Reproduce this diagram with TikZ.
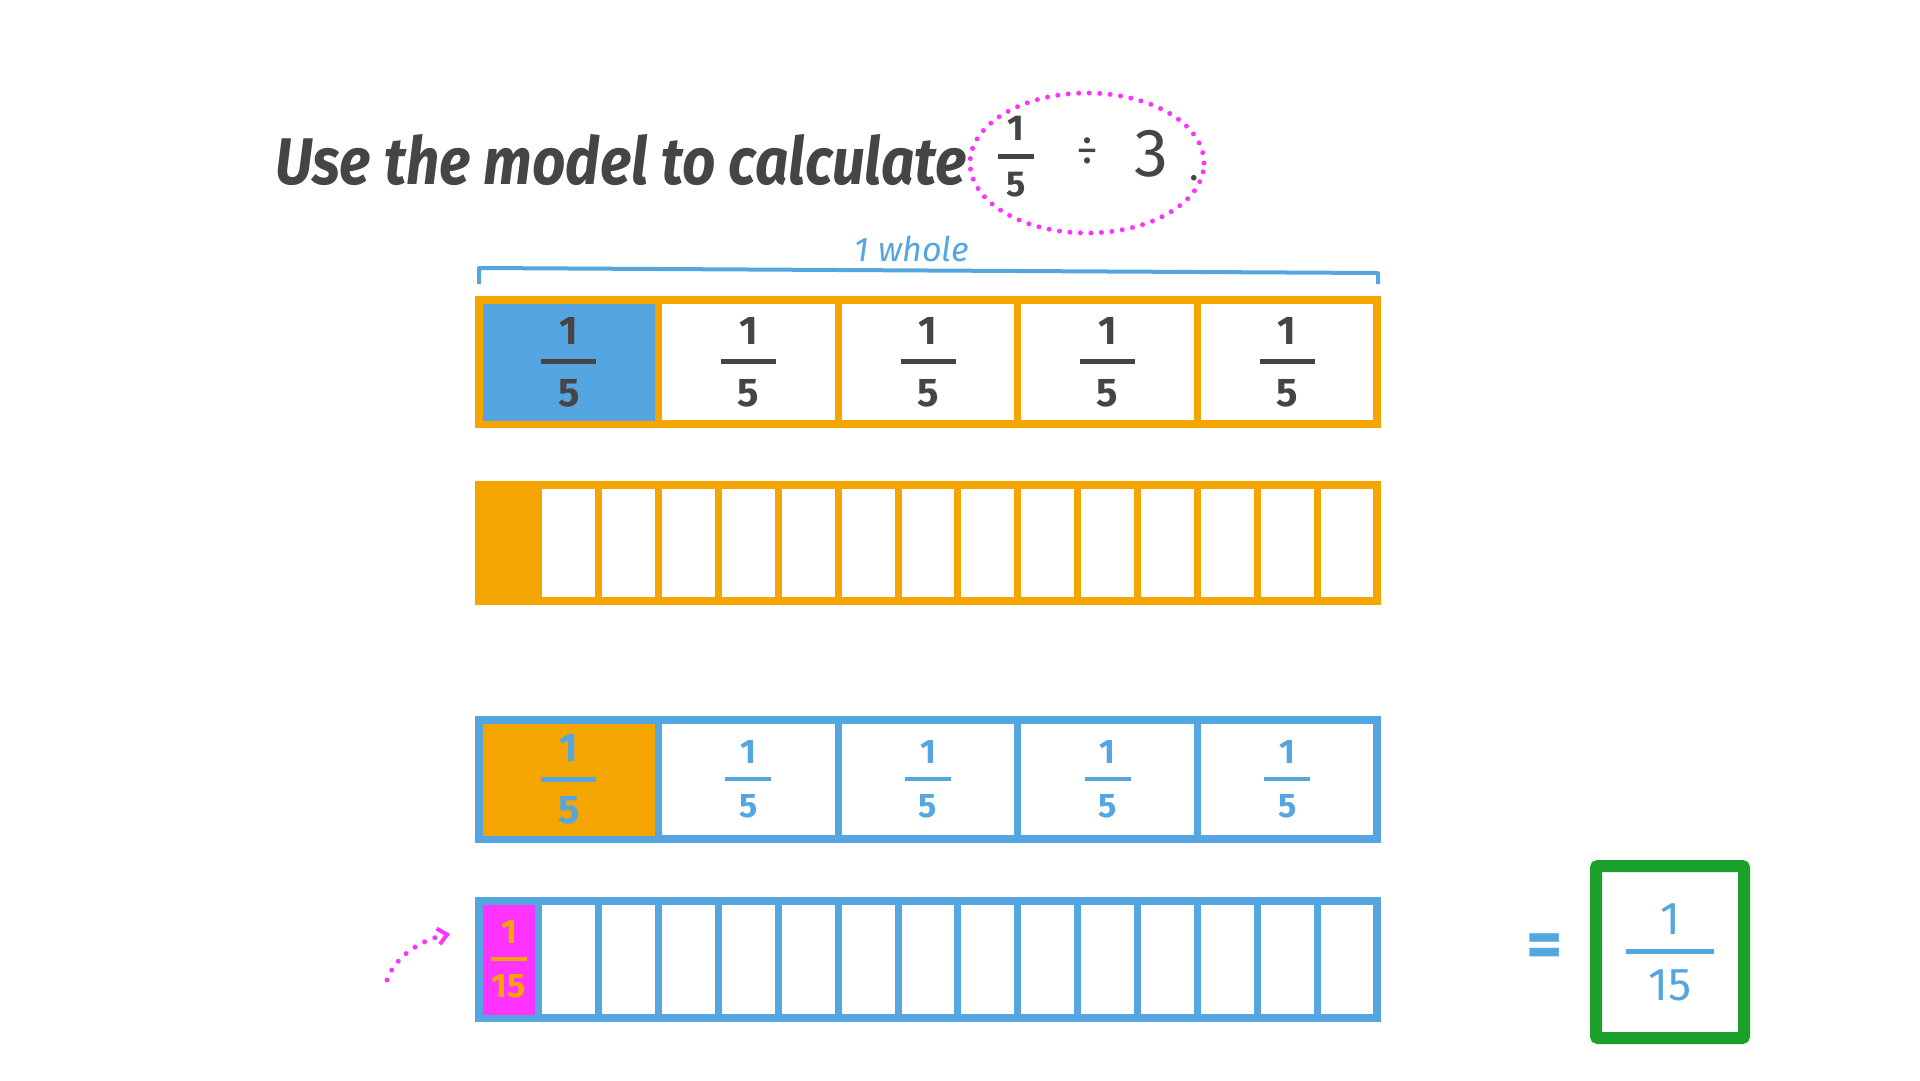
\documentclass[tikz,border=0pt]{standalone}
\usepackage{amsmath}
\usepackage{fontspec}
\setmainfont{Fira Sans}
\usetikzlibrary{arrows.meta,shapes.geometric}
\definecolor{orng}{HTML}{F5A500}
\definecolor{blu}{HTML}{55A5E0}
\definecolor{ink}{HTML}{454545}
\definecolor{mag}{HTML}{FF33FF}
\definecolor{grn}{HTML}{1BA12B}
% #1 bar width, #2 bar thickness, #3 numerator, #4 denominator
\newcommand\hf[4]{$\genfrac{}{}{#2}{0}{\makebox[#1]{#3}}{\makebox[#1]{#4}}$}
\begin{document}
\begin{tikzpicture}[x=1pt,y=-1pt,
  orcell/.style={draw=orng, line width=7pt, inner sep=0pt, minimum width=#1},
  blcell/.style={draw=blu, line width=7pt, inner sep=0pt, minimum width=#1},
  lblA/.style={text=ink, font=\fontsize{40}{48}\selectfont\bfseries},
  lblB/.style={text=blu, font=\fontsize{34}{40}\selectfont\bfseries},
]
\useasboundingbox (0,0) rectangle (1920,1080);
\fill[white] (0,0) rectangle (1920,1080);

% title
\node[anchor=base west, inner sep=0pt, text=ink,
      font=\fontsize{66}{70}\selectfont\bfseries\itshape] (title) at (275,184)
      {\scalebox{0.885}[1]{Use the model to calculate}};
\node[text=ink, font=\fontsize{36}{44}\selectfont\bfseries, inner sep=0pt] (tfrac) at (1016,157) {\hf{36pt}{4.5pt}{1}{5}};
\node[text=ink, font=\fontsize{44}{50}\selectfont, inner sep=0pt] (tdiv) at (1087,152) {÷};
\node[text=ink, font=\fontsize{68}{74}\selectfont, inner sep=0pt, anchor=base] (tthree) at (1151,176) {3};
\node[text=ink, font=\fontsize{40}{48}\selectfont, inner sep=0pt, anchor=base] (tdot) at (1194,180) {.};
\node[draw=mag, ellipse, line width=5pt, line cap=round, dash pattern=on 0pt off 10.5pt,
      minimum width=234pt, minimum height=140pt] (circ) at (1087,163) {};

% 1 whole bracket
\node[text=blu, font=\fontsize{34}{40}\selectfont\itshape] (whole) at (912,249) {1 whole};
\draw[blu, line width=4pt, line join=round] (479,284) -- (479,268) -- (1378,273) -- (1378,284);

% row 1: fifths
\node[draw=orng, line width=8pt, minimum width=898pt, minimum height=124pt, inner sep=0pt] (r1) at (928,362) {};
\node[orcell=179.6pt, minimum height=124pt, fill=blu, lblA] (r1c1) at ({479+179.6*0.5},362) {\hf{55pt}{5pt}{1}{5}};
\foreach \i in {2,...,5}
  \node[orcell=179.6pt, minimum height=124pt, lblA] (r1c\i) at ({479+179.6*(\i-0.5)},362) {\hf{55pt}{5pt}{1}{5}};

% row 2: fifteenths (orange)
\node[draw=orng, line width=8pt, minimum width=898pt, minimum height=116pt, inner sep=0pt] (r2) at (928,543) {};
\node[orcell=59.87pt, minimum height=116pt, fill=orng] (r2c1) at ({479+59.87*0.5},543) {};
\foreach \i in {2,...,15}
  \node[orcell=59.87pt, minimum height=116pt] (r2c\i) at ({479+59.87*(\i-0.5)},543) {};

% row 3: fifths (blue)
\node[draw=blu, line width=8pt, minimum width=898pt, minimum height=119pt, inner sep=0pt] (r3) at (928,779.5) {};
\node[blcell=179.6pt, minimum height=119pt, fill=orng, lblB, font=\fontsize{40}{48}\selectfont\bfseries] (r3c1) at ({479+179.6*0.5},779.5) {\hf{55pt}{5pt}{1}{5}};
\foreach \i in {2,...,5}
  \node[blcell=179.6pt, minimum height=119pt, lblB] (r3c\i) at ({479+179.6*(\i-0.5)},779.5) {\hf{46pt}{4.5pt}{1}{5}};

% row 4: fifteenths (blue)
\node[draw=blu, line width=8pt, minimum width=898pt, minimum height=117pt, inner sep=0pt] (r4) at (928,959.5) {};
\node[blcell=59.87pt, minimum height=117pt, fill=mag, text=orng, font=\fontsize{34}{40}\selectfont\bfseries] (r4c1) at ({479+59.87*0.5},959.5) {\hf{36pt}{4.5pt}{1}{15}};
\foreach \i in {2,...,15}
  \node[blcell=59.87pt, minimum height=117pt] (r4c\i) at ({479+59.87*(\i-0.5)},959.5) {};

% dotted arrow
\coordinate (as) at (387,980);
\coordinate (ae) at (450,934);
\draw[mag, line width=5pt, line cap=round, dash pattern=on 0pt off 11pt,
      -{Straight Barb[length=9pt,width=16pt,line width=4pt]}]
  (as) .. controls (395,957) and (420,940) .. (ae);

% answer
\node[text=blu, font=\fontsize{70}{80}\selectfont\bfseries, inner sep=0pt] (eq) at (1545,951) {=};
\node[draw=grn, line width=12pt, rounded corners=2pt, minimum width=148pt, minimum height=172pt,
      text=blu, font=\fontsize{46}{54}\selectfont] (ans) at (1670,952) {\hf{88pt}{5pt}{1}{15}};
\end{tikzpicture}
\end{document}
